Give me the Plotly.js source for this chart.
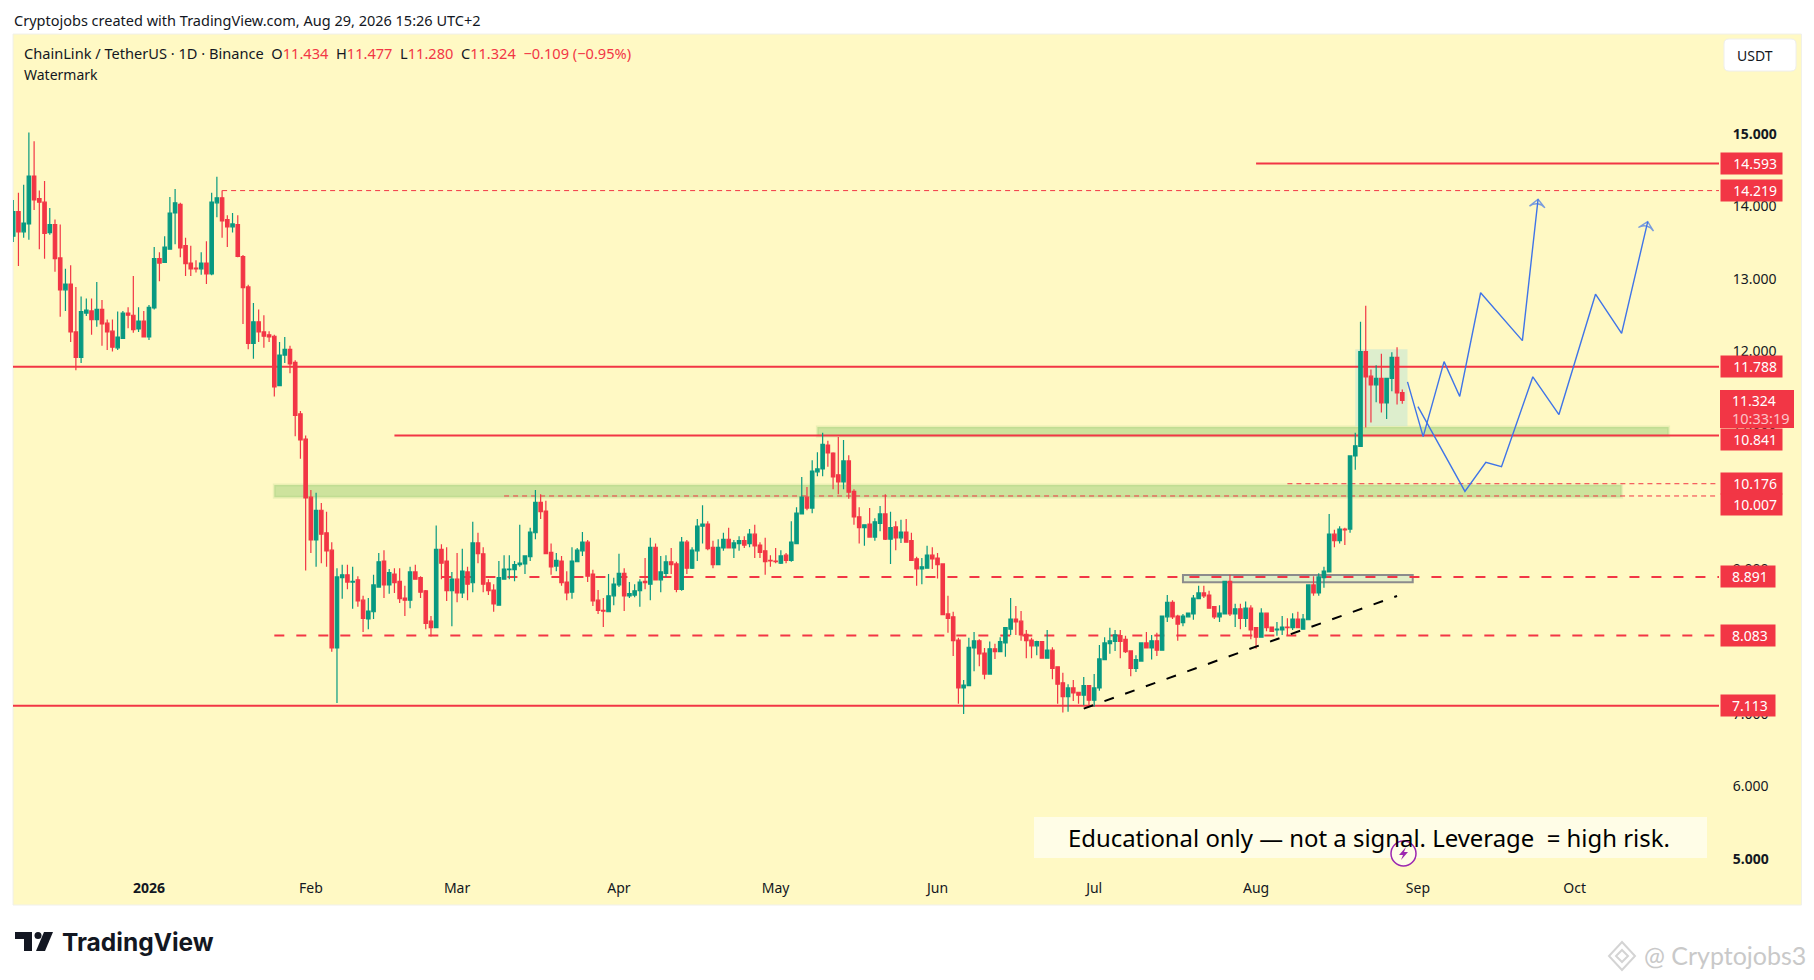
<!DOCTYPE html>
<html>
<head>
<meta charset="utf-8">
<script src="https://cdn.plot.ly/plotly-3.0.1.min.js"></script>
<style>
html, body { margin: 0; padding: 0; background: #fff; }
</style>
</head>
<body>
<div id="chart" style="width:1814px;height:980px"></div>
<script>
// daily candles, first one is 2025-12-06
var firstDay = '2025-12-06';

var opens = [
13.59,13.93,13.65,13.76,14.42,14.11,14.06,13.64,13.75,13.29,
12.85,12.93,12.27,11.92,12.53,12.56,12.44,12.58,12.39,12.28,
12.05,12.18,12.53,12.50,12.31,12.42,12.20,12.60,13.28,13.23,
13.41,13.91,14.03,13.46,13.22,13.15,13.14,13.22,13.07,14.05,
14.12,13.82,13.72,13.75,13.31,12.89,12.11,12.41,12.27,12.23,
12.21,11.53,11.95,12.03,11.85,11.14,10.79,9.99,9.40,9.81,
9.50,9.26,7.91,8.88,8.92,8.82,8.85,8.57,8.31,8.41,
8.75,9.11,8.78,8.93,8.83,8.60,8.57,8.96,8.88,8.70,
8.28,8.19,9.27,9.11,8.70,8.86,8.67,8.96,8.81,9.36,
9.21,8.81,8.71,8.50,8.86,8.99,8.99,9.06,9.07,9.17,
9.50,9.92,9.80,9.23,9.04,9.11,8.82,8.68,9.10,9.25,
9.37,8.93,8.57,8.43,8.41,8.63,8.78,8.94,8.63,8.64,
8.70,8.83,8.79,9.30,8.85,8.94,9.10,9.07,8.72,9.37,
9.01,9.25,9.59,9.62,9.30,9.06,9.29,9.41,9.29,9.35,
9.39,9.35,9.48,9.33,9.25,9.12,9.11,9.08,9.19,9.12,
9.35,9.76,9.99,9.84,10.34,10.38,10.71,10.60,10.30,10.20,
10.49,10.07,9.72,9.57,9.62,9.44,9.63,9.76,9.41,9.58,
9.43,9.51,9.39,9.14,9.00,9.01,9.19,9.15,9.07,8.38,
8.34,8.02,7.36,7.39,7.91,8.01,7.84,7.55,7.90,7.86,
7.98,8.17,8.31,8.28,8.10,8.02,7.94,8.00,7.77,7.88,
7.65,7.43,7.24,7.36,7.30,7.26,7.39,7.19,7.36,7.75,
7.97,8.00,8.08,8.03,7.87,7.63,7.73,7.98,7.91,8.01,
7.88,8.34,8.54,8.35,8.26,8.34,8.38,8.59,8.67,8.64,
8.48,8.34,8.38,8.83,8.38,8.45,8.32,8.46,8.19,8.06,
8.39,8.20,8.16,8.16,8.20,8.19,8.31,8.17,8.30,8.78,
8.67,8.88,8.96,9.48,9.39,9.55,9.55,10.56,10.69,12.00,
11.66,11.54,11.63,11.29,11.63,11.92,11.434];

var highs = [
14.09,14.19,14.30,15.02,14.90,14.22,14.35,13.98,13.82,13.75,
13.14,13.19,12.89,12.76,12.73,12.73,12.96,12.71,12.44,12.44,
12.55,12.56,12.61,13.04,12.61,12.56,12.64,13.44,13.37,13.59,
14.13,14.24,14.05,13.57,13.46,13.26,13.37,13.52,14.19,14.41,
14.22,13.88,13.91,13.88,13.33,12.92,12.67,12.58,12.50,12.28,
12.23,12.13,12.20,12.08,11.88,11.18,10.84,10.09,10.05,9.91,
9.79,9.37,9.01,9.06,9.06,9.03,8.90,8.63,8.60,8.92,
9.22,9.26,9.00,9.01,9.01,8.77,9.03,9.06,8.90,8.71,
8.35,9.60,9.34,9.30,8.96,9.22,9.28,9.03,9.65,9.50,
9.30,8.86,8.79,9.11,9.19,9.19,9.11,9.61,9.19,9.57,
10.09,10.03,9.94,9.35,9.22,9.18,8.97,9.30,9.29,9.51,
9.40,8.99,8.71,8.60,8.93,8.88,9.21,9.01,8.82,8.79,
8.86,9.15,9.43,9.35,9.18,9.19,9.29,9.10,9.44,9.40,
9.30,9.69,9.88,9.66,9.39,9.41,9.50,9.57,9.40,9.45,
9.45,9.55,9.61,9.37,9.43,9.19,9.29,9.26,9.22,9.66,
9.85,10.27,10.13,10.50,10.61,10.88,10.77,10.61,10.82,10.78,
10.57,10.10,9.85,9.61,9.84,9.70,9.87,10.03,9.79,9.66,
9.68,9.69,9.50,9.17,9.15,9.32,9.30,9.22,9.08,8.63,
8.41,8.05,7.47,8.05,8.13,8.03,7.91,8.00,7.97,8.06,
8.19,8.60,8.49,8.42,8.16,8.05,8.01,8.00,8.16,7.92,
7.65,7.57,7.41,7.47,7.30,7.51,7.40,7.55,7.95,8.06,
8.19,8.16,8.16,8.08,7.87,7.81,7.98,8.13,8.09,8.12,
8.35,8.64,8.57,8.37,8.38,8.39,8.64,8.77,8.77,8.70,
8.48,8.50,8.83,8.92,8.52,8.52,8.55,8.50,8.19,8.46,
8.39,8.20,8.27,8.35,8.32,8.39,8.41,8.38,8.78,8.90,
8.94,9.03,9.76,9.54,9.59,9.57,10.56,10.88,12.41,12.63,
11.75,11.81,11.97,11.63,11.99,12.06,11.477];

var lows = [
13.51,13.18,13.57,13.54,13.95,13.41,13.28,13.61,13.10,12.48,
12.56,12.13,11.74,11.84,12.49,12.23,12.34,12.08,12.02,12.00,
12.02,12.18,12.32,12.26,12.27,12.20,12.16,12.58,12.97,13.22,
13.41,13.48,13.30,13.04,13.04,13.09,13.06,12.93,13.05,13.85,
13.57,13.44,13.64,13.30,12.38,12.03,11.90,12.13,12.05,12.13,
11.38,11.53,11.84,11.70,10.83,10.52,8.98,9.22,9.03,9.08,
9.03,7.86,7.15,8.59,8.72,8.45,8.48,8.13,8.17,8.31,
8.75,8.60,8.66,8.67,8.53,8.35,8.46,8.86,8.60,8.17,
8.07,8.19,8.86,8.56,8.21,8.54,8.60,8.57,8.68,9.08,
8.68,8.64,8.41,8.50,8.86,8.86,8.83,9.03,8.93,9.11,
9.41,9.69,9.21,8.92,8.97,8.77,8.57,8.59,9.10,9.18,
8.82,8.49,8.38,8.20,8.41,8.50,8.75,8.42,8.60,8.61,
8.48,8.72,8.57,8.85,8.68,8.89,8.93,8.68,8.70,8.93,
9.00,9.11,9.35,9.26,9.01,9.06,9.25,9.29,9.15,9.25,
9.29,9.30,9.15,9.15,8.92,9.03,9.08,9.07,9.08,9.10,
9.35,9.76,9.81,9.77,10.28,10.28,10.41,10.10,10.03,10.10,
9.97,9.61,9.35,9.32,9.44,9.39,9.52,9.40,9.07,9.26,
9.36,9.37,9.11,8.77,8.79,9.01,9.00,8.87,8.37,8.12,
7.80,7.14,7.00,7.39,7.59,7.66,7.48,7.55,7.76,7.86,
7.79,8.09,8.09,8.01,7.77,7.77,7.81,7.77,7.77,7.48,
7.14,7.02,7.03,7.18,7.14,7.12,7.12,7.10,7.32,7.75,
7.83,7.87,7.77,7.84,7.52,7.58,7.73,7.91,7.75,7.80,
7.88,8.27,8.31,8.01,8.21,8.34,8.30,8.59,8.60,8.46,
8.31,8.27,8.38,8.35,8.20,8.17,8.20,8.03,7.90,8.06,
8.14,8.14,8.08,8.09,8.09,8.16,8.19,8.17,8.30,8.63,
8.63,8.74,8.96,9.30,9.35,9.33,9.50,10.37,10.69,10.95,
11.02,11.30,11.16,11.07,11.45,11.27,11.28];

var closes = [
13.93,13.65,13.77,14.42,14.09,14.06,13.63,13.75,13.28,12.85,
12.93,12.27,11.92,12.55,12.57,12.44,12.58,12.38,12.27,12.06,
12.20,12.53,12.50,12.30,12.42,12.20,12.61,13.28,13.22,13.44,
13.91,14.05,13.43,13.21,13.14,13.14,13.22,13.07,14.06,14.12,
13.80,13.72,13.76,13.31,12.88,12.11,12.41,12.27,12.21,12.20,
11.51,11.95,12.03,11.83,11.12,10.78,9.98,9.40,9.81,9.48,
9.25,7.91,8.89,8.92,8.82,8.83,8.56,8.32,8.42,8.78,
9.10,8.78,8.95,8.81,8.59,8.57,8.96,8.86,8.68,8.25,
8.19,9.27,9.08,8.70,8.86,8.67,8.97,8.79,9.36,9.21,
8.79,8.70,8.52,8.88,9.00,9.00,9.06,9.08,9.18,9.51,
9.92,9.79,9.21,9.03,9.12,8.81,8.67,9.11,9.26,9.37,
8.90,8.56,8.43,8.42,8.63,8.79,8.94,8.63,8.66,8.70,
8.82,8.81,9.30,8.85,8.96,9.10,9.06,8.72,9.37,9.01,
9.26,9.59,9.62,9.28,9.06,9.30,9.41,9.29,9.36,9.39,
9.33,9.48,9.32,9.23,9.10,9.11,9.10,9.18,9.12,9.37,
9.77,9.99,9.84,10.35,10.38,10.72,10.60,10.27,10.20,10.49,
10.06,9.72,9.57,9.61,9.44,9.65,9.76,9.41,9.57,9.43,
9.51,9.37,9.12,9.00,9.03,9.19,9.14,9.06,8.37,8.32,
8.01,7.36,7.40,7.92,8.01,7.83,7.55,7.90,7.86,8.00,
8.19,8.31,8.27,8.09,8.01,7.94,8.00,7.77,7.88,7.63,
7.41,7.24,7.36,7.29,7.26,7.39,7.19,7.36,7.76,7.98,
8.01,8.09,8.00,7.86,7.63,7.75,7.98,7.91,8.01,7.88,
8.35,8.54,8.34,8.24,8.35,8.39,8.60,8.67,8.63,8.46,
8.34,8.39,8.83,8.38,8.45,8.32,8.46,8.16,8.06,8.39,
8.19,8.14,8.17,8.20,8.19,8.31,8.19,8.31,8.78,8.67,
8.89,8.97,9.48,9.39,9.55,9.54,10.56,10.70,12.00,11.65,
11.54,11.63,11.29,11.63,11.92,11.43,11.324];

// price levels
var solidLevels = [14.593, 11.788, 10.841, 7.113];
var solidStarts = ['2026-08-01', '2025-12-01', '2026-02-17', '2025-12-01'];
var thinLevels = [14.219, 10.176, 10.007];
var thinStarts = ['2026-01-15', '2026-08-07', '2026-03-10'];
var thickLevels = [8.891, 8.083];
var thickStarts = ['2026-02-26', '2026-01-25'];

// zones, [start, end], [low, high]
var zoneDates = [['2026-05-09', '2026-10-19'], ['2026-01-25', '2026-10-10']];
var zonePrices = [[10.83, 10.96], [9.99, 10.16]];

var consolDates = ['2026-08-20', '2026-08-30'];
var consolPrices = [10.97, 12.03];
var baseDates = ['2026-07-18', '2026-08-31'];
var basePrices = [8.816, 8.917];
var trendDates = ['2026-06-29', '2026-08-28'];
var trendPrices = [7.074, 8.628];

// blue projected paths
var pathOneDates = ['2026-08-30', '2026-09-02', '2026-09-06', '2026-09-09', '2026-09-13', '2026-09-21', '2026-09-24'];
var pathOnePrices = [11.58, 10.825, 11.86, 11.38, 12.81, 12.15, 14.10];
var pathTwoDates = ['2026-09-01', '2026-09-10', '2026-09-14', '2026-09-17', '2026-09-23', '2026-09-28', '2026-10-05', '2026-10-10', '2026-10-15'];
var pathTwoPrices = [11.24, 10.07, 10.47, 10.41, 11.65, 11.13, 12.79, 12.25, 13.79];

// axes
var priceTicks = [5, 6, 7, 8, 9, 10, 11, 12, 13, 14, 15];
var priceTickText = ['<b>5.000</b>', '6.000', '7.000', '8.000', '9.000', '10.000', '11.000', '12.000', '13.000', '14.000', '<b>15.000</b>'];
var monthTicks = ['2026-01-01', '2026-02-01', '2026-03-01', '2026-04-01', '2026-05-01', '2026-06-01', '2026-07-01', '2026-08-01', '2026-09-01', '2026-10-01'];
var monthText = ['<b>2026</b>', 'Feb', 'Mar', 'Apr', 'May', 'Jun', 'Jul', 'Aug', 'Sep', 'Oct'];

var RED = '#f23645';
var GREEN = '#089981';
var BLUE = '#3f74e8';
var FONT = '"Noto Sans", sans-serif';
var TEXT = '#131722';
var X_END = '2026-10-28 15:36';
var X_START = '2025-12-05 23:00';

// page pixels to paper fractions
function pX(px) { return (px - 13) / 1706; }
function pY(py) { return (870 - py) / 836; }

var dates = [];
for (var i = 0; i < opens.length; i++) {
	var d = new Date(Date.parse(firstDay + 'T00:00:00Z') + i * 86400000);
	dates.push(d.toISOString().slice(0, 10));
}

var candles = {
	type: 'candlestick',
	x: dates,
	open: opens,
	high: highs,
	low: lows,
	close: closes,
	whiskerwidth: 0,
	increasing: { line: { color: GREEN, width: 1.2 }, fillcolor: GREEN },
	decreasing: { line: { color: RED, width: 1.2 }, fillcolor: RED },
	hoverinfo: 'skip'
};

function arrowSizes(n) {
	var s = [];
	for (var k = 0; k < n; k++) s.push(k == n - 1 ? 11 : 0);
	return s;
}

function pathTrace(x, y) {
	return {
		type: 'scatter',
		mode: 'lines+markers',
		x: x,
		y: y,
		line: { color: BLUE, width: 1.4 },
		marker: {
			symbol: 'arrow-wide-open',
			angleref: 'previous',
			size: arrowSizes(x.length),
			color: BLUE,
			line: { color: BLUE, width: 1.4 }
		},
		hoverinfo: 'skip'
	};
}

function roundRect(x0, y0, x1, y1, r) {
	return 'M' + pX(x0 + r) + ',' + pY(y0) + ' L' + pX(x1 - r) + ',' + pY(y0) +
		' Q' + pX(x1) + ',' + pY(y0) + ' ' + pX(x1) + ',' + pY(y0 + r) +
		' L' + pX(x1) + ',' + pY(y1 - r) +
		' Q' + pX(x1) + ',' + pY(y1) + ' ' + pX(x1 - r) + ',' + pY(y1) +
		' L' + pX(x0 + r) + ',' + pY(y1) +
		' Q' + pX(x0) + ',' + pY(y1) + ' ' + pX(x0) + ',' + pY(y1 - r) +
		' L' + pX(x0) + ',' + pY(y0 + r) +
		' Q' + pX(x0) + ',' + pY(y0) + ' ' + pX(x0 + r) + ',' + pY(y0) + ' Z';
}

function polyPath(pts) {
	var s = '';
	for (var k = 0; k < pts.length; k++) {
		s += (k == 0 ? 'M' : ' L') + pX(pts[k][0]) + ',' + pY(pts[k][1]);
	}
	return s + ' Z';
}

var shapes = [];

// yellow panel behind everything
shapes.push({
	type: 'rect', xref: 'paper', yref: 'paper', layer: 'below',
	x0: pX(13), x1: pX(1801.5), y0: pY(905), y1: pY(34),
	fillcolor: '#fff9c4', line: { color: '#f0f0ea', width: 1 }
});

// green zones
for (var z = 0; z < zoneDates.length; z++) {
	shapes.push({
		type: 'rect', xref: 'x', yref: 'y', layer: 'below',
		x0: zoneDates[z][0], x1: zoneDates[z][1], y0: zonePrices[z][0], y1: zonePrices[z][1],
		fillcolor: 'rgba(130,195,100,0.40)', line: { color: 'rgba(130,195,100,0.16)', width: 3 }
	});
}
shapes.push({
	type: 'rect', xref: 'x', yref: 'y', layer: 'below',
	x0: consolDates[0], x1: consolDates[1], y0: consolPrices[0], y1: consolPrices[1],
	fillcolor: 'rgba(200,230,210,0.62)', line: { width: 0 }
});
shapes.push({
	type: 'rect', xref: 'x', yref: 'y', layer: 'below',
	x0: baseDates[0], x1: baseDates[1], y0: basePrices[0], y1: basePrices[1],
	fillcolor: 'rgba(200,230,201,0.55)', line: { color: '#8c8c8c', width: 2 }
});

for (var a = 0; a < solidLevels.length; a++) {
	shapes.push({
		type: 'line', xref: 'x', yref: 'y', layer: 'below',
		x0: solidStarts[a], x1: X_END, y0: solidLevels[a], y1: solidLevels[a],
		line: { color: RED, width: 2 }
	});
}
for (var b = 0; b < thinLevels.length; b++) {
	shapes.push({
		type: 'line', xref: 'x', yref: 'y', layer: 'below',
		x0: thinStarts[b], x1: X_END, y0: thinLevels[b], y1: thinLevels[b],
		line: { color: RED, width: 1, dash: '5px,4px' }
	});
}
for (var c = 0; c < thickLevels.length; c++) {
	shapes.push({
		type: 'line', xref: 'x', yref: 'y', layer: 'below',
		x0: thickStarts[c], x1: X_END, y0: thickLevels[c], y1: thickLevels[c],
		line: { color: RED, width: 2, dash: '10px,12px' }
	});
}

// trend line goes over the candles
shapes.push({
	type: 'line', xref: 'x', yref: 'y', layer: 'above',
	x0: trendDates[0], x1: trendDates[1], y0: trendPrices[0], y1: trendPrices[1],
	line: { color: '#000000', width: 2, dash: '10px,12px' }
});

// last price box, text is put on top of it as a note
shapes.push({
	type: 'rect', xref: 'paper', yref: 'paper', layer: 'above',
	x0: pX(1720), x1: pX(1794), y0: pY(428), y1: pY(390),
	fillcolor: RED, line: { width: 0 }
});

// USDT button, lightning badge, logo marks
shapes.push({
	type: 'path', xref: 'paper', yref: 'paper', layer: 'above',
	path: roundRect(1724, 39, 1796, 71, 5), fillcolor: '#ffffff', line: { color: '#eeeeee', width: 1 }
});
shapes.push({
	type: 'rect', xref: 'paper', yref: 'paper', layer: 'above',
	x0: pX(1034), x1: pX(1707), y0: pY(858), y1: pY(817),
	fillcolor: 'rgba(255,255,255,0.6)', line: { width: 0 }
});
shapes.push({
	type: 'circle', xref: 'paper', yref: 'paper', layer: 'above',
	x0: pX(1391), x1: pX(1416), y0: pY(866), y1: pY(841),
	fillcolor: '#fffde7', line: { color: '#9c27b0', width: 1.5 }
});
shapes.push({
	type: 'path', xref: 'paper', yref: 'paper', layer: 'above',
	path: polyPath([[1406, 847], [1399, 855], [1403, 855], [1401, 860], [1408, 852], [1404, 852]]),
	fillcolor: '#9c27b0', line: { width: 0 }
});
shapes.push({
	type: 'path', xref: 'paper', yref: 'paper', layer: 'above',
	path: polyPath([[15, 932], [32, 932], [32, 951], [24, 951], [24, 939], [15, 939]]),
	fillcolor: '#131722', line: { width: 0 }
});
shapes.push({
	type: 'circle', xref: 'paper', yref: 'paper', layer: 'above',
	x0: pX(34.5), x1: pX(41.5), y0: pY(939), y1: pY(932),
	fillcolor: '#131722', line: { width: 0 }
});
shapes.push({
	type: 'path', xref: 'paper', yref: 'paper', layer: 'above',
	path: polyPath([[44, 932], [53, 932], [45, 951], [36, 951]]),
	fillcolor: '#131722', line: { width: 0 }
});
// diamond next to the corner watermark
shapes.push({
	type: 'path', xref: 'paper', yref: 'paper', layer: 'above',
	path: polyPath([[1622, 942], [1635, 956], [1622, 970], [1609, 956]]),
	fillcolor: 'rgba(0,0,0,0)', line: { color: '#d4d4d4', width: 2 }
});
shapes.push({
	type: 'path', xref: 'paper', yref: 'paper', layer: 'above',
	path: polyPath([[1622, 950], [1628, 956], [1622, 962], [1616, 956]]),
	fillcolor: 'rgba(0,0,0,0)', line: { color: '#d4d4d4', width: 2 }
});

function note(text, px, py, size, color, family) {
	return {
		xref: 'paper', yref: 'paper', x: pX(px), y: pY(py),
		xanchor: 'left', yanchor: 'middle', showarrow: false, align: 'left',
		text: text, font: { family: family || FONT, size: size, color: color }
	};
}

function priceTag(value, text, w, shift) {
	return {
		xref: 'paper', yref: 'y', x: 1, y: value, xshift: 1, yshift: shift,
		xanchor: 'left', yanchor: 'middle', showarrow: false, align: 'center',
		width: w, height: 21, bgcolor: RED, borderpad: 0,
		text: text, font: { family: FONT, size: 14, color: '#ffffff' }
	};
}

function r(t) { return '<span style="color:' + RED + '">' + t + '</span>'; }

var annotations = [
	note('Cryptojobs created with TradingView.com, Aug 29, 2026 15:26 UTC+2', 12, 20, 14.5, TEXT),
	note('ChainLink / TetherUS · 1D · Binance&nbsp;&nbsp;O' + r('11.434') + '&nbsp;&nbsp;H' + r('11.477') + '&nbsp;&nbsp;L' + r('11.280') + '&nbsp;&nbsp;C' + r('11.324') + '&nbsp;&nbsp;' + r('−0.109 (−0.95%)'), 22, 53, 14.6, TEXT),
	note('Watermark', 22, 75, 14, TEXT),
	note('USDT', 1735, 55, 14, TEXT),
	note('Educational only — not a signal. Leverage  = high risk.', 1066, 837, 23.9, '#000000'),
	note('<b>TradingView</b>', 60, 942, 24.5, '#131722', 'Inter, sans-serif'),
	note('@ Cryptojobs3', 1642, 955, 25, '#c9c9c9', 'Lato, sans-serif'),
	priceTag(solidLevels[0], '&nbsp;&nbsp;14.593', 61, 0),
	priceTag(thinLevels[0], '&nbsp;&nbsp;14.219', 61, 0),
	priceTag(solidLevels[1], '&nbsp;&nbsp;11.788', 61, 0),
	priceTag(solidLevels[2], '&nbsp;&nbsp;10.841', 61, -4),
	priceTag(thinLevels[1], '&nbsp;&nbsp;10.176', 61, 0),
	priceTag(thinLevels[2], '&nbsp;&nbsp;10.007', 61, -9),
	priceTag(thickLevels[0], '&nbsp;8.891', 54, 0),
	priceTag(thickLevels[1], '&nbsp;8.083', 54, 0),
	priceTag(solidLevels[3], '&nbsp;7.113', 54, 0),
	note('11.324', 1730, 400, 14, '#ffffff'),
	note('10:33:19', 1730, 418, 14.5, '#fbc3c8')
];

var layout = {
	width: 1814,
	height: 980,
	autosize: false,
	showlegend: false,
	hovermode: false,
	dragmode: false,
	paper_bgcolor: '#ffffff',
	plot_bgcolor: 'rgba(0,0,0,0)',
	margin: { l: 13, r: 95, t: 34, b: 110, pad: 0 },
	font: { family: FONT, size: 14, color: TEXT },
	boxgap: 0.06,
	xaxis: {
		type: 'date',
		range: [X_START, X_END],
		rangeslider: { visible: false },
		showgrid: false,
		zeroline: false,
		showline: false,
		tickmode: 'array',
		tickvals: monthTicks,
		ticktext: monthText,
		ticks: 'outside',
		ticklen: 5,
		tickcolor: 'rgba(0,0,0,0)',
		tickfont: { family: FONT, size: 14, color: TEXT }
	},
	yaxis: {
		range: [4.848, 16.379],
		side: 'right',
		showgrid: false,
		zeroline: false,
		showline: false,
		tickmode: 'array',
		tickvals: priceTicks,
		ticktext: priceTickText,
		ticks: 'outside',
		ticklen: 10,
		tickcolor: 'rgba(0,0,0,0)',
		tickfont: { family: FONT, size: 14, color: TEXT }
	},
	shapes: shapes,
	annotations: annotations
};

Plotly.newPlot('chart', [candles, pathTrace(pathOneDates, pathOnePrices), pathTrace(pathTwoDates, pathTwoPrices)], layout, { displayModeBar: false, staticPlot: true });
</script>
</body>
</html>
